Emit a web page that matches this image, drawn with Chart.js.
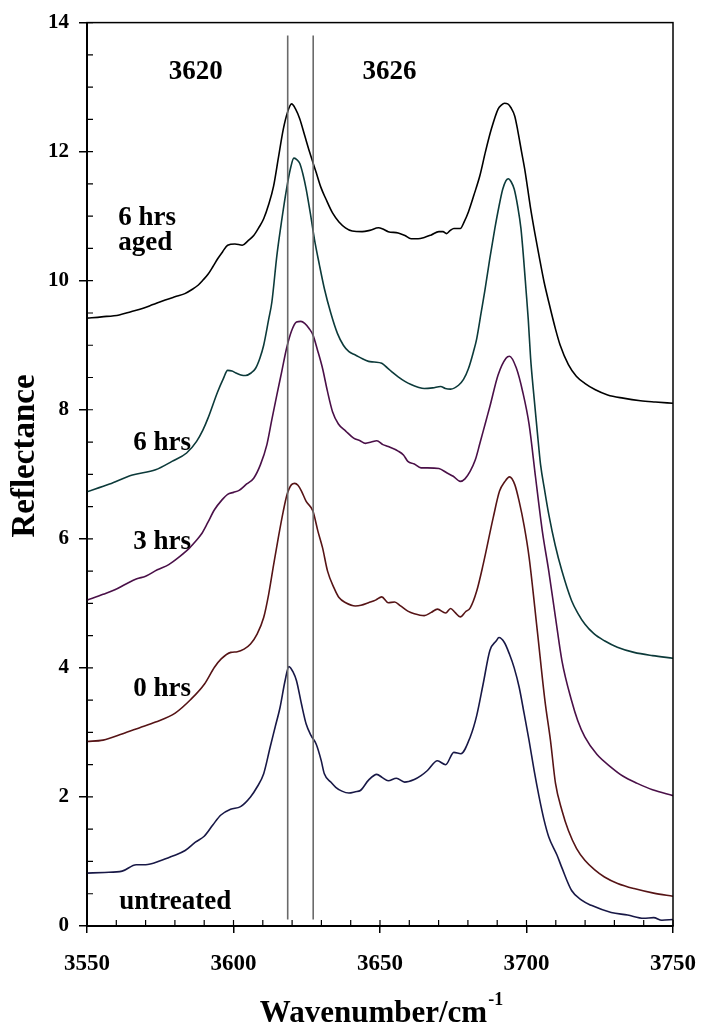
<!DOCTYPE html>
<html>
<head>
<meta charset="utf-8">
<script src="https://cdn.jsdelivr.net/npm/chart.js@4"></script>
<style>
  body { margin: 0; background: #fff; }
  canvas { display: block; }
</style>
</head>
<body>
<canvas id="myChart" width="713" height="1032" style="width:713px;height:1032px"></canvas>
<script>
// spectra (wavenumber / reflectance)
const untreatedX = [3550, 3556, 3562, 3566.8, 3570, 3575, 3579, 3583.5, 3587, 3590, 3593, 3595.7, 3599, 3602.4, 3605.8, 3608, 3610.3, 3612.5, 3614.2, 3615.9, 3617.6, 3618.9, 3620.4, 3621.5, 3623.2, 3624.8, 3626.5, 3628.2, 3629.9, 3631, 3633.2, 3634.9, 3637, 3639.4, 3641.6, 3643.3, 3646.1, 3648.9, 3650.8, 3652.8, 3655.6, 3658.4, 3661.7, 3664, 3666.2, 3669.6, 3672.4, 3675.2, 3677.6, 3680.8, 3683, 3685.2, 3687.5, 3689.7, 3690.6, 3692.5, 3694.2, 3695.8, 3697.5, 3699.2, 3700.9, 3702.6, 3704.3, 3705.9, 3707.6, 3710.4, 3712.1, 3715.4, 3718.8, 3722.1, 3728.9, 3734.5, 3740, 3743.4, 3746.2, 3750];
const untreatedY = [0.82, 0.83, 0.85, 0.95, 0.95, 1.01, 1.08, 1.17, 1.30, 1.39, 1.57, 1.72, 1.81, 1.85, 2.0, 2.15, 2.36, 2.77, 3.08, 3.39, 3.80, 4.02, 3.93, 3.80, 3.44, 3.13, 2.95, 2.82, 2.57, 2.36, 2.23, 2.15, 2.09, 2.06, 2.08, 2.10, 2.26, 2.35, 2.30, 2.25, 2.29, 2.23, 2.27, 2.33, 2.41, 2.56, 2.50, 2.69, 2.67, 2.93, 3.26, 3.75, 4.27, 4.42, 4.47, 4.39, 4.21, 4.0, 3.70, 3.29, 2.87, 2.41, 2.0, 1.66, 1.38, 1.10, 0.90, 0.55, 0.40, 0.32, 0.21, 0.17, 0.12, 0.13, 0.09, 0.10];

const hrs0X = [3550, 3555.5, 3562.2, 3567.8, 3573.4, 3580.1, 3585.4, 3590.1, 3593.5, 3595.8, 3599.1, 3601.3, 3603.6, 3605.8, 3608, 3610.3, 3612, 3613.7, 3615.3, 3617, 3618.3, 3619.8, 3620.9, 3622, 3623.2, 3624.8, 3627.1, 3628.8, 3630.4, 3632.1, 3634.3, 3636, 3638.3, 3641.6, 3643.5, 3646.1, 3648.5, 3650.6, 3652.8, 3655, 3657, 3659.5, 3661.7, 3665.1, 3667.5, 3669.6, 3672.4, 3674.1, 3675.6, 3677.4, 3679.2, 3680.8, 3683, 3685.2, 3688.6, 3690.8, 3692.5, 3694.2, 3696, 3697.5, 3699.2, 3700.9, 3703.7, 3706.3, 3708.2, 3709.9, 3712.1, 3714.3, 3717.1, 3719.9, 3723.3, 3726.6, 3731.1, 3736.7, 3743.4, 3750];
const hrs0Y = [2.86, 2.88, 2.98, 3.07, 3.16, 3.30, 3.51, 3.75, 4.01, 4.14, 4.24, 4.25, 4.29, 4.37, 4.52, 4.78, 5.14, 5.60, 6.02, 6.43, 6.69, 6.84, 6.86, 6.83, 6.74, 6.58, 6.43, 6.12, 5.86, 5.50, 5.24, 5.09, 5.01, 4.96, 4.97, 5.01, 5.05, 5.10, 5.01, 5.02, 4.96, 4.88, 4.84, 4.81, 4.86, 4.91, 4.85, 4.92, 4.86, 4.79, 4.87, 4.93, 5.19, 5.60, 6.32, 6.74, 6.88, 6.96, 6.84, 6.58, 6.20, 5.71, 4.57, 3.49, 2.87, 2.21, 1.79, 1.48, 1.20, 1.02, 0.87, 0.76, 0.66, 0.58, 0.51, 0.46];

const hrs3X = [3550, 3555.5, 3559.5, 3563.3, 3567, 3570, 3574, 3577.9, 3581.5, 3584.6, 3587, 3589, 3591.2, 3593.5, 3596, 3598, 3600, 3601.9, 3604.5, 3606.9, 3609.2, 3611.4, 3613.1, 3614.8, 3616.5, 3618.1, 3619.8, 3621.5, 3623, 3624.3, 3625.8, 3627.1, 3628.7, 3630.4, 3632, 3633.8, 3635.8, 3638.3, 3641, 3643.2, 3645, 3647, 3648.9, 3651, 3652.8, 3656.2, 3658, 3659.5, 3661.7, 3664, 3666.2, 3670.1, 3672.9, 3675, 3677.4, 3679, 3680.8, 3682.5, 3684.1, 3686, 3687.5, 3690.3, 3693, 3694.2, 3696.5, 3698.7, 3700.9, 3703.1, 3705.4, 3707.6, 3709.9, 3712.1, 3715.4, 3717.5, 3719.9, 3724, 3728.9, 3733, 3737.8, 3743, 3750];
const hrs3Y = [5.05, 5.14, 5.21, 5.30, 5.38, 5.42, 5.52, 5.60, 5.72, 5.84, 5.96, 6.07, 6.25, 6.45, 6.60, 6.69, 6.72, 6.75, 6.85, 6.94, 7.15, 7.46, 7.85, 8.23, 8.60, 8.95, 9.22, 9.36, 9.37, 9.34, 9.26, 9.16, 8.92, 8.64, 8.30, 7.97, 7.78, 7.67, 7.56, 7.52, 7.48, 7.50, 7.52, 7.46, 7.43, 7.36, 7.30, 7.20, 7.16, 7.10, 7.10, 7.09, 7.02, 6.97, 6.89, 6.93, 7.05, 7.22, 7.48, 7.80, 8.05, 8.54, 8.80, 8.83, 8.65, 8.28, 7.77, 6.95, 6.12, 5.50, 4.78, 4.11, 3.49, 3.18, 2.93, 2.66, 2.46, 2.32, 2.21, 2.11, 2.02];

const hrs6X = [3550, 3557.7, 3565.5, 3573.4, 3579, 3584, 3587.4, 3589.5, 3591.3, 3594.6, 3596.5, 3598, 3599.5, 3600.8, 3602.5, 3604.1, 3606, 3607.5, 3609, 3610.3, 3612, 3613.1, 3614.8, 3616.5, 3618.1, 3619.5, 3620.6, 3621.5, 3622.6, 3623.7, 3624.8, 3626.2, 3627.6, 3629.3, 3631, 3633.2, 3635.5, 3637.5, 3639.4, 3641.6, 3644, 3646.1, 3648, 3650.6, 3652.5, 3654.5, 3656.2, 3658.5, 3660.6, 3663, 3665.1, 3668, 3670.7, 3672.3, 3674.1, 3676.8, 3678.5, 3680.2, 3681.9, 3683, 3684.5, 3685.8, 3687.5, 3689.2, 3690.6, 3691.9, 3693, 3693.8, 3694.8, 3695.8, 3697, 3698.1, 3699, 3699.8, 3700.6, 3701.4, 3702.6, 3703.7, 3704.8, 3706.2, 3707.6, 3709.8, 3712.1, 3715.4, 3717.5, 3719.9, 3723, 3726.6, 3731, 3736.7, 3743, 3750];
const hrs6Y = [6.73, 6.85, 6.99, 7.07, 7.20, 7.33, 7.51, 7.68, 7.87, 8.28, 8.48, 8.61, 8.60, 8.57, 8.54, 8.53, 8.57, 8.64, 8.80, 9.0, 9.40, 9.67, 10.39, 10.95, 11.42, 11.75, 11.90, 11.88, 11.82, 11.65, 11.42, 11.05, 10.65, 10.25, 9.88, 9.50, 9.18, 9.00, 8.90, 8.85, 8.79, 8.75, 8.74, 8.72, 8.65, 8.57, 8.51, 8.44, 8.39, 8.35, 8.33, 8.34, 8.36, 8.33, 8.32, 8.38, 8.47, 8.64, 8.90, 9.10, 9.50, 9.85, 10.35, 10.81, 11.15, 11.42, 11.55, 11.58, 11.53, 11.42, 11.15, 10.81, 10.35, 9.88, 9.40, 8.80, 8.18, 7.65, 7.15, 6.75, 6.38, 5.90, 5.50, 5.04, 4.85, 4.68, 4.53, 4.42, 4.32, 4.24, 4.19, 4.15];

const agedX = [3550, 3555, 3561, 3565, 3568.9, 3572.5, 3576.7, 3580, 3583.4, 3585.7, 3587.9, 3589.6, 3591.3, 3593, 3594.6, 3596.3, 3598, 3600.5, 3603, 3605, 3606.9, 3608.6, 3610.3, 3612, 3613.7, 3615.3, 3617, 3618.5, 3619.8, 3621.2, 3622.6, 3624.3, 3626, 3628.2, 3629.8, 3631.5, 3633.8, 3636, 3638.2, 3640.5, 3643.9, 3646.5, 3649.5, 3651, 3652.8, 3656.2, 3658.5, 3660.6, 3663, 3665.1, 3667.5, 3670.1, 3671.5, 3672.7, 3674, 3675.2, 3677.4, 3678.8, 3680.2, 3682, 3684.1, 3686, 3688, 3690.3, 3691.4, 3692.5, 3693.6, 3694.7, 3696, 3697, 3698.3, 3699.5, 3701.3, 3702.8, 3704.3, 3706, 3707.6, 3709.9, 3711.5, 3714.3, 3717, 3719.9, 3723.5, 3727.7, 3733, 3738.9, 3744, 3750];
const agedY = [9.42, 9.44, 9.47, 9.52, 9.57, 9.63, 9.70, 9.75, 9.80, 9.86, 9.93, 10.01, 10.10, 10.22, 10.34, 10.45, 10.55, 10.57, 10.55, 10.62, 10.70, 10.82, 10.96, 11.18, 11.47, 11.90, 12.35, 12.62, 12.74, 12.66, 12.51, 12.25, 11.99, 11.68, 11.45, 11.27, 11.05, 10.91, 10.82, 10.77, 10.76, 10.78, 10.82, 10.80, 10.76, 10.74, 10.70, 10.65, 10.65, 10.67, 10.71, 10.76, 10.76, 10.73, 10.78, 10.81, 10.81, 10.92, 11.07, 11.32, 11.63, 12.0, 12.35, 12.66, 12.72, 12.75, 12.74, 12.68, 12.55, 12.33, 12.0, 11.70, 11.15, 10.75, 10.38, 9.98, 9.67, 9.25, 9.00, 8.70, 8.52, 8.41, 8.31, 8.23, 8.18, 8.14, 8.12, 8.10];

// band markers
const markerX = [3618.5, 3627.2];
const markerY = [0.1, 13.8];

const xMajor = [3550, 3600, 3650, 3700, 3750];
const yMajor = [0, 2, 4, 6, 8, 10, 12, 14];

const serif = '"Liberation Serif", "Times New Roman", serif';

// text annotations: [text, wavenumber, reflectance] (baseline, left aligned)
const notes = [
  ['3620', 3577.9, 13.12],
  ['3626', 3644, 13.12],
  ['6 hrs', 3560.7, 10.87],
  ['aged', 3560.7, 10.48],
  ['6 hrs', 3565.8, 7.37],
  ['3 hrs', 3565.8, 5.84],
  ['0 hrs', 3565.8, 3.57],
  ['untreated', 3561, 0.26]
];

const series = [
  ['untreated', untreatedX, untreatedY, '#181846'],
  ['0 hrs', hrs0X, hrs0Y, '#561416'],
  ['3 hrs', hrs3X, hrs3Y, '#4a1048'],
  ['6 hrs', hrs6X, hrs6Y, '#0c3a3a'],
  ['6 hrs aged', agedX, agedY, '#000000']
];

const datasets = [];
markerX.forEach(mx => {
  datasets.push({
    label: 'marker ' + mx,
    data: markerY.map(my => ({x: mx, y: my})),
    borderColor: '#6a6a6a',
    borderWidth: 1.6,
    pointRadius: 0,
    tension: 0
  });
});
series.forEach(([name, xs, ys, color]) => {
  datasets.push({
    label: name,
    data: xs.map((x, i) => ({x: x, y: ys[i]})),
    borderColor: color,
    borderWidth: 1.6,
    pointRadius: 0,
    cubicInterpolationMode: 'monotone'
  });
});

const frame = {
  id: 'frame',
  afterDraw(chart) {
    const {ctx, chartArea: a, scales: {x, y}} = chart;
    ctx.save();
    ctx.strokeStyle = '#000';
    ctx.lineWidth = 1.5;
    ctx.strokeRect(a.left, a.top, a.right - a.left, a.bottom - a.top);

    // inward tick marks
    ctx.lineWidth = 1.2;
    ctx.beginPath();
    x.ticks.forEach(t => {
      const px = x.getPixelForValue(t.value);
      ctx.moveTo(px, a.bottom);
      ctx.lineTo(px, a.bottom - 6);
    });
    y.ticks.forEach(t => {
      const py = y.getPixelForValue(t.value);
      ctx.moveTo(a.left, py);
      ctx.lineTo(a.left + 6, py);
    });
    ctx.stroke();

    // annotations
    ctx.fillStyle = '#000';
    ctx.font = 'bold 27px ' + serif;
    ctx.textAlign = 'left';
    ctx.textBaseline = 'alphabetic';
    notes.forEach(([txt, nx, ny]) => {
      ctx.fillText(txt, x.getPixelForValue(nx), y.getPixelForValue(ny));
    });

    // axis titles
    ctx.font = 'bold 31px ' + serif;
    const main = 'Wavenumber/cm';
    const w1 = ctx.measureText(main).width;
    ctx.font = 'bold 18px ' + serif;
    const w2 = ctx.measureText('-1').width;
    const cx = (a.left + a.right) / 2 + 1;
    const start = cx - (w1 + w2) / 2;
    ctx.font = 'bold 31px ' + serif;
    ctx.fillText(main, start, 1022);
    ctx.font = 'bold 18px ' + serif;
    ctx.fillText('-1', start + w1 + 1, 1005);

    ctx.translate(34, 456);
    ctx.rotate(-Math.PI / 2);
    ctx.font = 'bold 33px ' + serif;
    ctx.textAlign = 'center';
    ctx.fillText('Reflectance', 0, 0);
    ctx.restore();
  }
};

const ctx = document.getElementById('myChart');

new Chart(ctx, {
  type: 'line',
  data: { datasets: datasets },
  options: {
    responsive: false,
    animation: false,
    devicePixelRatio: 1,
    layout: { padding: { top: 20, right: 30, left: 0, bottom: 0 } },
    plugins: { legend: { display: false }, tooltip: { enabled: false } },
    scales: {
      x: {
        type: 'linear',
        min: 3550,
        max: 3750,
        afterFit: s => { s.height = 106; },
        border: { display: true, color: '#000', width: 2 },
        grid: {
          drawOnChartArea: false,
          tickLength: 7,
          lineWidth: 1.5,
          tickColor: c => (c.tick && xMajor.includes(c.tick.value)) ? '#000' : 'rgba(0,0,0,0)'
        },
        ticks: {
          stepSize: 10,
          autoSkip: false,
          maxRotation: 0,
          minRotation: 0,
          padding: 17,
          color: '#000',
          font: { family: serif, size: 23, weight: 'bold' },
          callback: v => xMajor.includes(v) ? String(v) : ''
        }
      },
      y: {
        min: 0,
        max: 14,
        afterFit: s => { s.width = 87; },
        border: { display: true, color: '#000', width: 2 },
        grid: {
          drawOnChartArea: false,
          tickLength: 8,
          lineWidth: 1.5,
          tickColor: c => (c.tick && yMajor.includes(c.tick.value)) ? '#000' : 'rgba(0,0,0,0)'
        },
        ticks: {
          stepSize: 0.5,
          autoSkip: false,
          padding: 10,
          color: '#000',
          font: { family: serif, size: 21, weight: 'bold' },
          callback: v => yMajor.includes(v) ? String(v) : ''
        }
      }
    }
  },
  plugins: [frame]
});
</script>
</body>
</html>
